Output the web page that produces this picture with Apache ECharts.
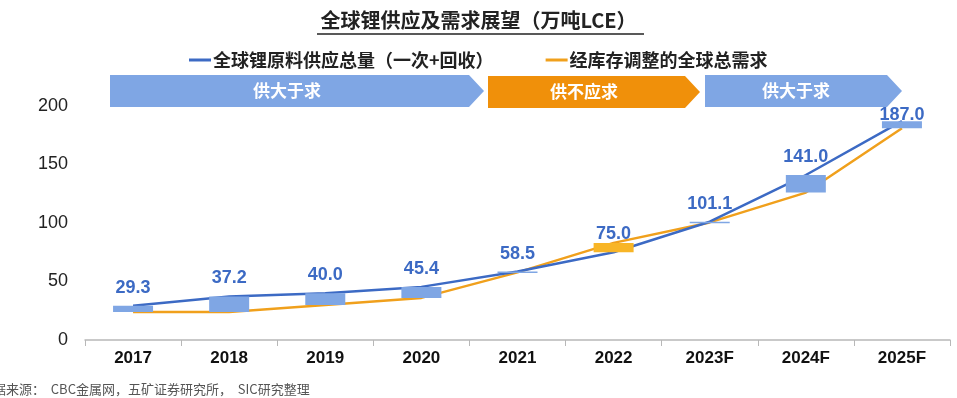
<!DOCTYPE html>
<html>
<head>
<meta charset="utf-8">
<script src="https://cdn.jsdelivr.net/npm/echarts@6/dist/echarts.min.js"></script>
<style>
  html, body { margin: 0; padding: 0; background: #fff; }
  #chart { width: 957px; height: 398px; }
</style>
</head>
<body>
<div id="chart"></div>
<script>
  // 年份
  const years = ['2017', '2018', '2019', '2020', '2021', '2022', '2023F', '2024F', '2025F']
  // 全球锂原料供应总量（一次+回收）
  const supply = [29.3, 37.2, 40.0, 45.4, 58.5, 75.0, 101.1, 141.0, 187.0]
  // 经库存调整的全球总需求（图上估读）
  const demand = [24.0, 24.0, 30.0, 36.0, 57.8, 83.0, 100.5, 126.0, 181.0]
  // 顶部供需阶段
  const phases = ['供大于求', '供不应求', '供大于求']

  const seriesNames = ['全球锂原料供应总量（一次+回收）', '经库存调整的全球总需求']
  const colors = {
    line: '#3C6AC4',
    demand: '#F0A01C',
    gapBlue: '#7FA6E4',
    gapOrange: '#F8B526',
    bannerBlue: '#7FA6E4',
    bannerOrange: '#F0900A'
  }
  const cjk = '"Noto Sans CJK SC", "Liberation Sans", sans-serif'
  const latin = '"Liberation Sans", Arial, sans-serif'

  const myChart = echarts.init(document.getElementById('chart'))

  const banner = (pts, color, text, cx) => ([
    {
      type: 'polygon',
      shape: { points: pts },
      style: { fill: color },
      z: 5
    },
    {
      type: 'text',
      x: cx,
      y: (pts[0][1] + pts[3][1]) / 2,
      style: {
        text: text,
        fill: '#fff',
        font: 'bold 17px ' + cjk,
        align: 'center',
        verticalAlign: 'middle'
      },
      z: 6
    }
  ])

  const graphics = [].concat(
    banner([[110, 75], [469, 75], [484, 91], [469, 107], [110, 107]], colors.bannerBlue, phases[0], 287),
    banner([[488, 76], [685, 76], [700, 92], [685, 108], [488, 108]], colors.bannerOrange, phases[1], 584),
    banner([[705, 75], [887, 75], [902, 91], [887, 107], [705, 107]], colors.bannerBlue, phases[2], 796),
    [
      {
        type: 'line',
        shape: { x1: 317, y1: 34, x2: 644, y2: 34 },
        style: { stroke: '#222', lineWidth: 1.5 }
      },
      {
        type: 'text',
        left: -20,
        top: 383,
        style: {
          text: '数据来源：  CBC金属网，五矿证券研究所，  SIC研究整理',
          fill: '#555',
          font: '13px ' + cjk
        }
      }
    ]
  )

  const option = {
    animation: false,
    title: {
      text: '全球锂供应及需求展望（万吨LCE）',
      left: 'center',
      top: 5,
      textStyle: { fontFamily: cjk, fontSize: 20, fontWeight: 'bold', color: '#222' }
    },
    legend: {
      data: seriesNames,
      left: 184,
      top: 46,
      itemWidth: 22,
      itemHeight: 3,
      itemGap: 52,
      icon: 'rect',
      textStyle: { fontFamily: cjk, fontSize: 18, fontWeight: 'bold', color: '#222', padding: [0, 0, 0, -3] }
    },
    grid: { left: 85, right: 7, top: 106, bottom: 58 },
    xAxis: {
      type: 'category',
      data: years,
      axisLine: { lineStyle: { color: '#b8b8b8', width: 1.5 } },
      axisTick: { show: true, length: 6, lineStyle: { color: '#b8b8b8' } },
      axisLabel: { margin: 10, color: '#111', fontFamily: latin, fontWeight: 'bold', fontSize: 17 }
    },
    yAxis: {
      type: 'value',
      min: 0,
      max: 200,
      interval: 50,
      axisLine: { show: false },
      axisTick: { show: false },
      splitLine: { show: false },
      axisLabel: { margin: 17, color: '#222', fontFamily: latin, fontSize: 18 }
    },
    graphic: graphics,
    series: [
      {
        name: seriesNames[0],
        type: 'line',
        data: supply.map((v, i) => (i === supply.length - 1
          ? { value: v, label: { distance: -3 } }
          : v)),
        showSymbol: true,
        symbol: 'circle',
        symbolSize: 0,
        color: colors.line,
        lineStyle: { width: 2.5, color: colors.line },
        label: {
          show: true,
          position: 'top',
          distance: 9,
          formatter: p => Number(p.value).toFixed(1),
          color: colors.line,
          fontFamily: latin,
          fontWeight: 'bold',
          fontSize: 18
        },
        z: 3
      },
      {
        name: seriesNames[1],
        type: 'line',
        data: demand,
        showSymbol: false,
        symbol: 'none',
        color: colors.demand,
        lineStyle: { width: 2.5, color: colors.demand },
        z: 2
      },
      {
        name: 'gap',
        type: 'custom',
        data: years.map((y, i) => [i, supply[i], demand[i]]),
        encode: { x: 0, y: [1, 2] },
        renderItem: (params, api) => {
          const idx = api.value(0)
          const s = api.value(1)
          const d = api.value(2)
          const p1 = api.coord([idx, s])
          const p2 = api.coord([idx, d])
          const h = Math.max(Math.abs(p2[1] - p1[1]), 1.5)
          return {
            type: 'rect',
            shape: { x: p1[0] - 20, y: Math.min(p1[1], p2[1]), width: 40, height: h },
            style: { fill: d > s ? colors.gapOrange : colors.gapBlue }
          }
        },
        z: 4
      }
    ]
  }

  myChart.setOption(option)
  window.addEventListener('resize', () => myChart.resize(), false)
</script>
</body>
</html>
